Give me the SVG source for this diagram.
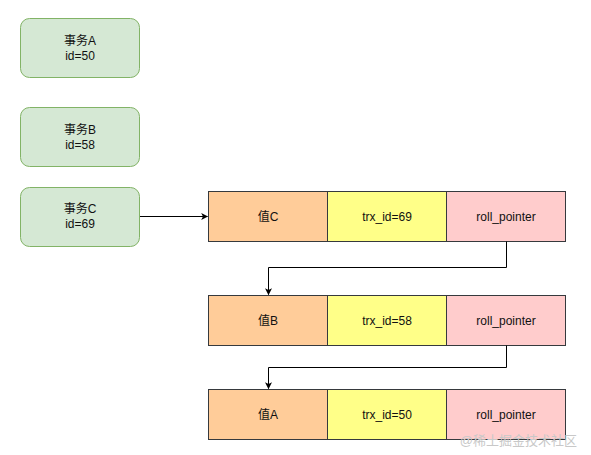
<svg xmlns="http://www.w3.org/2000/svg" width="591" height="455" viewBox="0 0 591 455">
<defs>
<style>
.tx{stroke:#82b366;fill:#d5e8d4;stroke-width:1}
.cell{stroke:#36393d;stroke-width:1}
.v{fill:#ffcc99}.t{fill:#ffff88}.r{fill:#ffcccc}
text{font-family:"Liberation Sans","Noto Sans CJK SC",sans-serif;font-size:12px;fill:#111;text-anchor:middle}
.ln{fill:none;stroke:#000;stroke-width:1}
.wm{fill:#c8c8c8;font-size:13px;text-anchor:end}
</style>
<marker id="ah" viewBox="0 0 10 10" refX="9" refY="5" markerWidth="7" markerHeight="7" orient="auto" markerUnits="userSpaceOnUse"><path d="M0,0 L10,5 L0,10 L2.5,5 Z" fill="#000"/></marker>
</defs>
<rect width="591" height="455" fill="#fff"/>
<g id="txA"><rect class="tx" x="20.5" y="18.5" width="119" height="59" rx="9"/><text x="80" y="45">事务A</text><text x="80" y="60">id=50</text></g>
<g id="txB"><rect class="tx" x="20.5" y="107.5" width="119" height="59" rx="9"/><text x="80" y="134">事务B</text><text x="80" y="149">id=58</text></g>
<g id="txC"><rect class="tx" x="20.5" y="187.5" width="119" height="59" rx="9"/><text x="80" y="213">事务C</text><text x="80" y="228">id=69</text></g>
<g id="rowC">
<rect class="cell v" x="208.5" y="191.5" width="119" height="50"/><text x="268" y="221">值C</text>
<rect class="cell t" x="327.5" y="191.5" width="119" height="50"/><text x="387" y="221">trx_id=69</text>
<rect class="cell r" x="446.5" y="191.5" width="119" height="50"/><text x="506" y="221">roll_pointer</text>
</g>
<g id="rowB">
<rect class="cell v" x="208.5" y="295.5" width="119" height="50"/><text x="268" y="325">值B</text>
<rect class="cell t" x="327.5" y="295.5" width="119" height="50"/><text x="387" y="325">trx_id=58</text>
<rect class="cell r" x="446.5" y="295.5" width="119" height="50"/><text x="506" y="325">roll_pointer</text>
</g>
<g id="rowA">
<rect class="cell v" x="208.5" y="389.5" width="119" height="50"/><text x="268" y="419">值A</text>
<rect class="cell t" x="327.5" y="389.5" width="119" height="50"/><text x="387" y="419">trx_id=50</text>
<rect class="cell r" x="446.5" y="389.5" width="119" height="50"/><text x="506" y="419">roll_pointer</text>
</g>
<g id="connectors">
<path class="ln" d="M140,216.5 H207.5" marker-end="url(#ah)"/>
<path class="ln" d="M506.5,241.5 V267.5 H268.5 V294.5" marker-end="url(#ah)"/>
<path class="ln" d="M506.5,345.5 V367.5 H268.5 V388.5" marker-end="url(#ah)"/>
</g>
<text class="wm" x="577" y="445">@稀土掘金技术社区</text>
</svg>
